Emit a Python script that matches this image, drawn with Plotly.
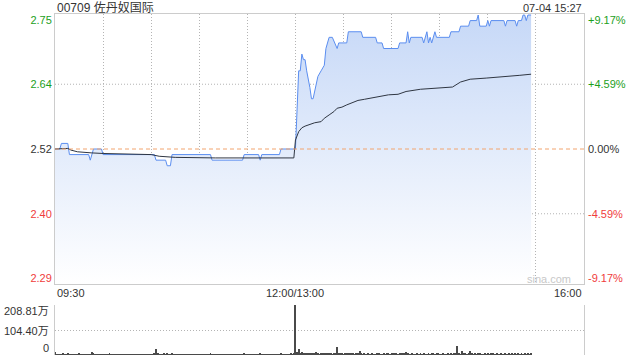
import plotly.graph_objects as go

# ---------------- data ----------------
prev_close = 2.52
tick_prices = [2.289, 2.404, 2.52, 2.636, 2.751]
tick_price_labels = ["2.29", "2.40", "2.52", "2.64", "2.75"]
tick_pct_labels = ["-9.17%", "-4.59%", "0.00%", "+4.59%", "+9.17%"]
grid_prices = [2.404, 2.636]

time_ticks = [0, 30, 60, 90, 120, 150, 180, 210, 240, 270, 300, 330]
time_labels = {0: "09:30", 150: "12:00/13:00", 330: "16:00"}

# minute index from 09:30 (lunch break removed)
price_t = [0, 3, 4, 8, 9, 21, 22, 24, 29, 30, 62, 63, 69, 70, 72, 73, 97, 98, 117, 118,
           127, 128, 129, 140, 141, 150,
           152, 153, 154, 155, 156, 157, 159, 160, 161, 163, 164, 166, 168, 169, 171, 173,
           176, 177, 182, 183, 191, 192, 200, 201, 204, 205, 214, 215, 219, 220, 221, 222,
           229, 230, 232, 233, 234, 235, 237, 238, 246, 247, 252, 253, 258, 259, 263, 264,
           265, 269, 270, 271, 272, 280, 281, 282, 287, 288, 289, 291, 292, 293, 294, 295, 297]
price_v = [2.52, 2.52, 2.53, 2.53, 2.51, 2.51, 2.50, 2.52, 2.52, 2.51, 2.51, 2.50, 2.50, 2.49,
           2.49, 2.51, 2.51, 2.50, 2.50, 2.51, 2.51, 2.50, 2.51, 2.51, 2.52, 2.52,
           2.66, 2.66, 2.69, 2.68, 2.68, 2.66, 2.63, 2.61, 2.61, 2.64, 2.65, 2.66, 2.67, 2.70,
           2.72, 2.72, 2.70, 2.71, 2.71, 2.73, 2.73, 2.72, 2.72, 2.71, 2.71, 2.70, 2.70, 2.71,
           2.71, 2.73, 2.71, 2.72, 2.72, 2.71, 2.73, 2.71, 2.72, 2.71, 2.73, 2.72, 2.72, 2.73,
           2.73, 2.74, 2.74, 2.75, 2.75, 2.76, 2.74, 2.74, 2.75, 2.74, 2.75, 2.75, 2.74, 2.75,
           2.75, 2.74, 2.75, 2.75, 2.76, 2.76, 2.75, 2.76, 2.76]

avg_t = [0, 8, 10, 14, 23, 30, 60, 65, 75, 100, 149, 150, 152, 154, 156, 159, 162, 166, 168,
         171, 174, 176, 179, 182, 185, 189, 193, 197, 202, 208, 214, 219, 228, 238, 248, 253,
         259, 269, 280, 290, 297]
avg_v = [2.52, 2.521, 2.518, 2.515, 2.513, 2.512, 2.510, 2.507, 2.505, 2.504, 2.504, 2.536,
         2.551, 2.558, 2.561, 2.564, 2.567, 2.569, 2.575, 2.581, 2.587, 2.593, 2.595, 2.599,
         2.603, 2.607, 2.609, 2.611, 2.614, 2.617, 2.618, 2.623, 2.627, 2.629, 2.631, 2.640,
         2.645, 2.647, 2.649, 2.652, 2.654]

# volume per minute, unit: 万
volume = [
    12, 3, 2, 4, 3, 5, 2, 3, 6, 4,
    3, 2, 4, 3, 2, 5, 3, 2, 4, 3,
    2, 3, 4, 14, 5, 3, 2, 4, 3, 2,
    3, 4, 2, 3, 5, 2, 3, 4, 2, 3,
    2, 3, 4, 2, 3, 2, 4, 3, 2, 3,
    4, 2, 3, 2, 3, 4, 2, 3, 2, 4,
    3, 2, 5, 24, 6, 3, 4, 2, 5, 3,
    6, 3, 4, 5, 2, 3, 4, 2, 3, 2,
    3, 4, 2, 3, 2, 4, 3, 2, 3, 4,
    2, 3, 2, 4, 3, 2, 3, 5, 3, 2,
    3, 2, 4, 3, 2, 3, 2, 4, 3, 2,
    3, 4, 2, 3, 2, 3, 4, 2, 5, 3,
    2, 3, 4, 2, 3, 2, 3, 4, 5, 3,
    2, 3, 2, 4, 3, 2, 3, 2, 4, 3,
    4, 6, 3, 2, 3, 4, 3, 5, 4, 6,
    208.81, 12, 25, 8, 14, 6, 9, 5, 7, 10,
    6, 8, 5, 11, 7, 4, 6, 9, 5, 7,
    8, 5, 6, 4, 7, 10, 32, 6, 5, 8,
    4, 6, 9, 7, 5, 10, 6, 4, 5, 7,
    15, 5, 4, 6, 3, 5, 4, 3, 5, 4,
    3, 5, 6, 4, 3, 5, 4, 8, 5, 4,
    6, 9, 5, 7, 4, 6, 8, 5, 10, 14,
    6, 4, 3, 5, 4, 3, 5, 4, 6, 3,
    5, 4, 3, 6, 4, 8, 5, 4, 10, 6,
    4, 3, 5, 4, 3, 5, 4, 6, 3, 5,
    8, 39, 6, 4, 18, 5, 7, 4, 6, 15,
    5, 4, 6, 3, 5, 7, 4, 3, 5, 4,
    6, 3, 5, 8, 4, 3, 5, 4, 6, 3,
    4, 7, 3, 5, 4, 6, 3, 8, 4, 5,
    3, 6, 4, 5, 3, 7, 4, 5,
]
volume_t = list(range(len(volume)))
vol_ticks = [0, 104.40, 208.81]
vol_labels = ["0", "104.40万", "208.81万"]

title_text = "00709 佐丹奴国际"
stamp_text = "07-04 15:27"

# ---------------- style ----------------
FONT = "Liberation Sans, Arial, Noto Sans CJK SC, sans-serif"
GREEN = "#1ca01c"
RED = "#f03c3c"
DARK = "#333333"
GRID = "#b4b4b4"
DOT = "1px,2px"
W, H = 640, 360
ML, MR, MT, MB = 55, 56, 14, 5
PH = H - MT - MB


def py(ypx):
    return (H - MB - ypx) / PH


def col_for(i):
    return RED if i < 2 else (DARK if i == 2 else GREEN)


fig = go.Figure()

fig.add_trace(go.Scatter(
    x=price_t, y=price_v, mode="lines", xaxis="x", yaxis="y",
    line=dict(color="#5b8ef0", width=1),
    fill="tozeroy",
    fillgradient=dict(type="vertical", start=2.278, stop=2.762,
                      colorscale=[[0, "rgba(255,255,255,1)"], [1, "rgba(198,216,247,1)"]]),
    hoverinfo="skip", showlegend=False,
))
fig.add_trace(go.Scatter(
    x=avg_t, y=avg_v, mode="lines", xaxis="x", yaxis="y",
    line=dict(color="#2f3642", width=1), hoverinfo="skip", showlegend=False,
))
# invisible trace to activate right axis
fig.add_trace(go.Scatter(x=[0], y=[prev_close], xaxis="x", yaxis="y3", mode="markers",
                         marker=dict(opacity=0), hoverinfo="skip", showlegend=False))
fig.add_trace(go.Bar(
    x=volume_t, y=volume, xaxis="x2", yaxis="y2", width=0.6,
    marker=dict(color="#4a4a4a", line=dict(width=0)), hoverinfo="skip", showlegend=False,
))

yr = [2.2782, 2.7618]
dom_main = [py(284), 1]
dom_vol = [0, py(305)]

fig.update_layout(
    width=W, height=H, margin=dict(l=ML, r=MR, t=MT, b=MB),
    paper_bgcolor="white", plot_bgcolor="rgba(0,0,0,0)",
    font=dict(family=FONT, size=11, color=DARK),
    bargap=0,
    xaxis=dict(range=[0, 330], domain=[0, 1], tickvals=time_ticks, ticktext=[""] * len(time_ticks),
               showgrid=True, gridcolor=GRID, griddash=DOT, gridwidth=1,
               showline=True, mirror=True, linecolor="#cccccc", linewidth=1,
               zeroline=False, ticks="", anchor="y"),
    yaxis=dict(range=yr, domain=dom_main, tickvals=tick_prices,
               ticktext=[f"<span style='color:{col_for(i)}'>{t}</span>" for i, t in enumerate(tick_price_labels)],
               showgrid=False, zeroline=False, ticks="",
               showline=True, mirror=True, linecolor="#cccccc", linewidth=1,
               tickfont=dict(size=11), anchor="x"),
    yaxis3=dict(range=yr, overlaying="y", side="right", tickvals=tick_prices,
                ticktext=[f"<span style='color:{col_for(i)}'>{t}</span>" for i, t in enumerate(tick_pct_labels)],
                showgrid=False, zeroline=False, ticks="", showline=False,
                ticklabelstandoff=3,
                tickfont=dict(size=11), anchor="x"),
    xaxis2=dict(range=[0, 330], domain=[0, 1], showgrid=False, showticklabels=False,
                zeroline=False, ticks="", showline=False, anchor="y2"),
    yaxis2=dict(range=[0, 208.81], domain=dom_vol, tickvals=vol_ticks, showticklabels=False,
                showgrid=True, gridcolor=GRID, griddash=DOT, gridwidth=1,
                zeroline=False, ticks="", showline=True, mirror=True,
                linecolor="#cccccc", linewidth=1, anchor="x2"),
)

shapes = []
for g in grid_prices:
    shapes.append(dict(type="line", xref="x", yref="y", x0=0, x1=330, y0=g, y1=g,
                       line=dict(color=GRID, width=1, dash=DOT), layer="below"))
shapes.append(dict(type="line", xref="x", yref="y", x0=0, x1=330, y0=prev_close, y1=prev_close,
                   line=dict(color="#f2a46e", width=1, dash="4px,3px"), layer="above"))
fig.update_layout(shapes=shapes)

ann = []
ann.append(dict(text=title_text, xref="paper", yref="paper", x=0, y=py(8), xanchor="left",
                yanchor="middle", showarrow=False, font=dict(size=12, color=DARK)))
ann.append(dict(text=stamp_text, xref="paper", yref="paper", x=1, y=py(8), xanchor="right",
                yanchor="middle", showarrow=False, font=dict(size=11, color=DARK)))
anchors = {0: "left", 150: "center", 330: "right"}
for t, lab in time_labels.items():
    ann.append(dict(text=lab, xref="x", yref="paper", x=t, y=py(293), xanchor=anchors[t],
                    yanchor="middle", showarrow=False, font=dict(size=11, color=DARK)))
shifts = [7, -1, -6]
for v, lab, s in zip(vol_ticks, vol_labels, shifts):
    ann.append(dict(text=lab, xref="paper", yref="y2", x=0, y=v, xanchor="right", xshift=-4,
                    yanchor="middle", yshift=s, showarrow=False, font=dict(size=11, color=DARK)))
ann.append(dict(text="sina.com", xref="paper", yref="paper", x=(573 - ML) / (W - ML - MR), y=py(279),
                xanchor="right", yanchor="middle", showarrow=False,
                font=dict(size=11, color="#c8c8c8")))
fig.update_layout(annotations=ann)

fig.write_html("out.html")
